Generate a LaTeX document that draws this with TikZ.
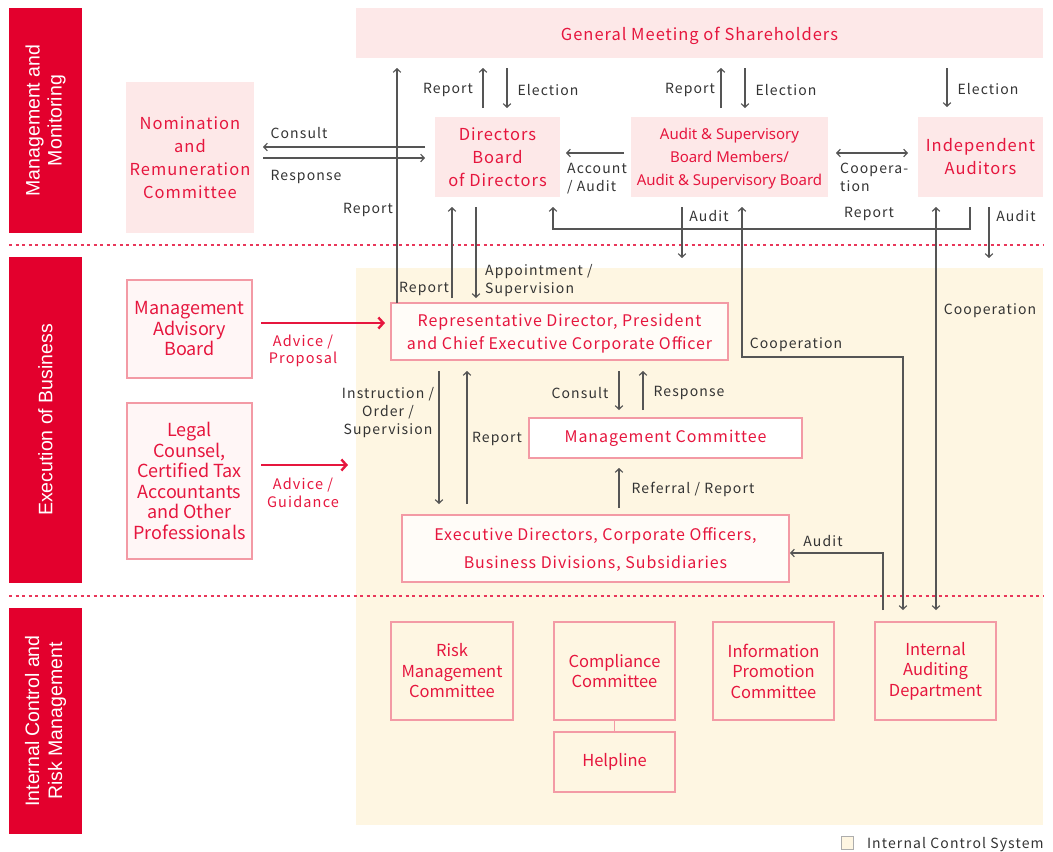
\documentclass[tikz,border=0pt]{standalone}
\usepackage{fontspec}
\setmainfont{Noto Sans CJK JP}
\newfontfamily\lblfont[LetterSpace=8]{Noto Sans CJK JP}
\newfontfamily\redfont[LetterSpace=6]{Noto Sans CJK JP}
\newfontfamily\asbfont{Noto Sans}
\newfontfamily\sidefont{Liberation Sans}
\usetikzlibrary{arrows.meta,calc}

\definecolor{sidered}{HTML}{E3002D}
\definecolor{redtxt}{HTML}{E6163E}
\definecolor{pinkfill}{HTML}{FDE8E8}
\definecolor{pinkline}{HTML}{F39AA5}
\definecolor{softpink}{HTML}{FFF6F6}
\definecolor{offwhite}{HTML}{FFFCF8}
\definecolor{icsyellow}{HTML}{FEF6E2}
\definecolor{linegray}{HTML}{555555}
\definecolor{lbltxt}{HTML}{333333}
\definecolor{dotred}{HTML}{E8375A}

\tikzset{
  pbox/.style={anchor=north west, inner sep=0pt, outer sep=0pt, align=center},
  head/.style={pbox, fill=pinkfill, text=redtxt},
  unit/.style={pbox, draw=pinkline, line width=1.2pt, text=redtxt},
  boxtxt/.style={inner sep=0pt, text=redtxt, align=center},
  sidebox/.style={anchor=north west, inner sep=0pt, outer sep=0pt, fill=sidered},
  sidetxt/.style={rotate=90, text=white, align=center,
    font=\sidefont\fontsize{19.5}{22}\selectfont},
  lbl/.style={text=lbltxt, inner sep=0pt, align=center, yshift=-2pt,
    font=\lblfont\fontsize{14}{18}\selectfont},
  redlbl/.style={text=redtxt, inner sep=0pt, align=center, yshift=-3pt,
    font=\lblfont\fontsize{14.5}{17.5}\selectfont},
  ln/.style={draw=linegray, line width=1.2pt},
  arr/.style={ln, -{Straight Barb[length=3.5pt,width=7.5pt]}},
  darr/.style={ln, {Straight Barb[length=3.5pt,width=7.5pt]}-{Straight Barb[length=3.5pt,width=7.5pt]}},
  redarr/.style={draw=redtxt, line width=2.4pt, -{Straight Barb[length=5pt,width=11pt]}},
  divider/.style={draw=dotred, line width=1.3pt, dash pattern=on 3pt off 3.5pt},
}

\begin{document}
\begin{tikzpicture}[x=1pt,y=-1pt]
\useasboundingbox (0,0) rectangle (1053,852);

% internal control system area
\node[pbox, fill=icsyellow, minimum width=687pt, minimum height=557pt] (ics) at (356,268) {};

% section dividers
\draw[divider] (9,245) -- (1043,245);
\draw[divider] (9,596) -- (1043,596);

% section headings
\node[sidebox, minimum width=73pt, minimum height=225pt] (s1) at (9,8) {};
\node[sidetxt] at (s1.center) {Management and\\Monitoring};
\node[sidebox, minimum width=73pt, minimum height=326pt] (s2) at (9,257) {};
\node[sidetxt] at (s2.center) {Execution of Business};
\node[sidebox, minimum width=73pt, minimum height=226pt] (s3) at (9,608) {};
\node[sidetxt, font=\sidefont\fontsize{19.5}{23}\selectfont] at (s3.center) {Internal Control and\\Risk Management};

% management and monitoring
\node[head, minimum width=687pt, minimum height=50pt] (gm) at (356,8) {};
\node[boxtxt, font=\redfont\fontsize{16.5}{20}\selectfont, yshift=-3pt] at (gm.center) {General Meeting of Shareholders};
\node[head, minimum width=128pt, minimum height=151pt, font=\redfont\fontsize{16.5}{23}\selectfont] (nrc) at (126,82) {Nomination\\and\\Remuneration\\Committee};
\node[head, minimum width=125pt, minimum height=80pt, font=\redfont\fontsize{16.5}{23}\selectfont] (dirb) at (435,117) {Directors\\Board\\of Directors};
\node[head, minimum width=197pt, minimum height=80pt] (asb) at (631,117) {};
\node[boxtxt, font=\asbfont\fontsize{15}{23}\selectfont, yshift=-2pt] at (asb.center) {Audit \& Supervisory\\Board Members/\\Audit \& Supervisory Board};
\node[head, minimum width=125pt, minimum height=80pt, font=\redfont\fontsize{16.5}{23}\selectfont] (ia) at (918,117) {Independent\\Auditors};

% execution of business
\node[unit, fill=softpink, minimum width=125pt, minimum height=98pt, font=\fontsize{18}{20.5}\selectfont] (mab) at (127,280) {Management\\Advisory\\Board};
\node[unit, fill=softpink, minimum width=125pt, minimum height=156pt, font=\fontsize{18}{20.6}\selectfont] (legal) at (127,403) {Legal\\Counsel,\\Certified Tax\\Accountants\\and Other\\Professionals};
\node[unit, fill=offwhite, minimum width=337pt, minimum height=57pt] (rep) at (391,303) {};
\node[boxtxt, font=\redfont\fontsize{16}{23}\selectfont, yshift=-2pt] at (rep.center) {Representative Director, President\\and Chief Executive Corporate Officer};
\node[unit, fill=white, minimum width=273pt, minimum height=40pt, font=\redfont\fontsize{16}{20}\selectfont] (mc) at (529,418) {Management Committee};
\node[unit, fill=offwhite, minimum width=387pt, minimum height=67pt] (exec) at (402,515) {};
\node[boxtxt, font=\redfont\fontsize{16}{28}\selectfont, yshift=-1pt] at (exec.center) {Executive Directors, Corporate Officers,\\Business Divisions, Subsidiaries};

% internal control and risk management
\tikzset{low/.style={unit, minimum width=121pt, minimum height=98pt, font=\fontsize{16.5}{20.5}\selectfont}}
\node[low, minimum width=122pt] (risk) at (391,622) {Risk\\Management\\Committee};
\node[low] (comp) at (554,622) {Compliance\\Committee};
\node[unit, minimum width=121pt, minimum height=60pt, font=\fontsize{16.5}{20}\selectfont] (help) at (554,732) {Helpline};
\node[low] (info) at (713,622) {Information\\Promotion\\Committee};
\node[low] (iad) at (875,622) {Internal\\Auditing\\Department};
\draw[draw=pinkline, line width=1.2pt] (comp.south) -- (help.north);

% shareholders' meeting links
\draw[arr, shorten >=10pt] (rep.north -| 397,0) -- (gm.south -| 397,0);
\node[lbl] at (368,208) {Report};
\draw[arr, shorten <=9pt, shorten >=10pt] (dirb.north -| 483,0) -- (gm.south -| 483,0);
\draw[arr, shorten <=10pt, shorten >=9pt] (gm.south -| 507,0) -- (dirb.north -| 507,0);
\node[lbl] at (448,88) {Report};
\node[lbl] at (548,88) {Election};
\draw[arr, shorten <=9pt, shorten >=10pt] (asb.north -| 721,0) -- (gm.south -| 721,0);
\draw[arr, shorten <=10pt, shorten >=9pt] (gm.south -| 745,0) -- (asb.north -| 745,0);
\node[lbl] at (690,88) {Report};
\node[lbl] at (786,88) {Election};
\draw[arr, shorten <=10pt, shorten >=10pt] (gm.south -| 947,0) -- (ia.north -| 947,0);
\node[lbl] at (988,87) {Election};

% board-level links
\draw[arr, shorten <=10pt, shorten >=9pt] (dirb.west |- 0,147) -- (nrc.east |- 0,147);
\draw[arr, shorten <=9pt, shorten >=10pt] (nrc.east |- 0,158) -- (dirb.west |- 0,158);
\node[lbl] at (299,131) {Consult};
\node[lbl] at (306,175) {Response};
\draw[arr, shorten <=7pt, shorten >=6pt] (asb.west |- 0,153) -- (dirb.east |- 0,153);
\node[lbl, align=left, anchor=north west] at (567,161) {Account\\/ Audit};
\draw[darr, shorten <=8pt, shorten >=10pt] (asb.east |- 0,153) -- (ia.west |- 0,153);
\node[lbl, align=left, anchor=north west] at (840,161) {Coopera-\\tion};
\draw[arr, shorten <=10pt, shorten >=10pt] (ia.south -| 970,0) -- (970,229) -| (dirb.south -| 553,0);
\node[lbl] at (869,212) {Report};
\draw[arr, shorten <=10pt, shorten >=10pt] (asb.south -| 682,0) -- (ics.north -| 682,0);
\node[lbl] at (709,214) {Audit};
\draw[arr, shorten <=10pt, shorten >=10pt] (ia.south -| 989,0) -- (ics.north -| 989,0);
\node[lbl] at (1016,214) {Audit};

% links with the internal auditing department
\draw[darr, shorten <=10pt, shorten >=12pt] (asb.south -| 742,0) -- (742,357) -| (iad.north -| 903,0);
\node[lbl] at (796,343) {Cooperation};
\draw[darr, shorten <=10pt, shorten >=12pt] (ia.south -| 936,0) -- (iad.north -| 936,0);
\node[lbl] at (990,309) {Cooperation};
\draw[arr, shorten <=12pt, shorten >=1pt] (iad.north -| 883,0) -- (883,553) -- (exec.east |- 0,553);
\node[lbl] at (823,539) {Audit};

% board and chief executive
\draw[arr, shorten <=5pt, shorten >=10pt] (rep.north -| 452,0) -- (dirb.south -| 452,0);
\draw[arr, shorten <=10pt, shorten >=5pt] (dirb.south -| 476,0) -- (rep.north -| 476,0);
\node[lbl] at (424,287) {Report};
\node[lbl, align=left, anchor=north west] at (485,262) {Appointment /\\Supervision};

% advisory links
\draw[redarr, shorten <=9pt, shorten >=6pt] (mab.east |- 0,323) -- (rep.west |- 0,323);
\node[redlbl] at (303,348) {Advice /\\Proposal};
\draw[redarr, shorten <=9pt, shorten >=8pt] (legal.east |- 0,465) -- (ics.west |- 0,465);
\node[redlbl] at (303,490) {Advice /\\Guidance};

% execution links
\draw[arr, shorten <=11pt, shorten >=11pt] (rep.south -| 439,0) -- (exec.north -| 439,0);
\node[lbl] at (388,411) {Instruction /\\Order /\\Supervision};
\draw[arr, shorten <=11pt, shorten >=11pt] (exec.north -| 467,0) -- (rep.south -| 467,0);
\node[lbl] at (497,437) {Report};
\draw[arr, shorten <=11pt, shorten >=8pt] (rep.south -| 619,0) -- (mc.north -| 619,0);
\node[lbl] at (580,391) {Consult};
\draw[arr, shorten <=8pt, shorten >=11pt] (mc.north -| 643,0) -- (rep.south -| 643,0);
\node[lbl] at (689,391) {Response};
\draw[arr, shorten <=7pt, shorten >=10pt] (exec.north -| 619,0) -- (mc.south -| 619,0);
\node[lbl] at (693,487) {Referral / Report};

% legend
\node[anchor=north west, inner sep=0pt, fill=icsyellow, draw=lbltxt!40, line width=0.8pt, minimum width=12pt, minimum height=13pt] (key) at (841,836) {};
\node[lbl, anchor=west] at ([xshift=13pt]key.east) {Internal Control System};
\end{tikzpicture}
\end{document}
